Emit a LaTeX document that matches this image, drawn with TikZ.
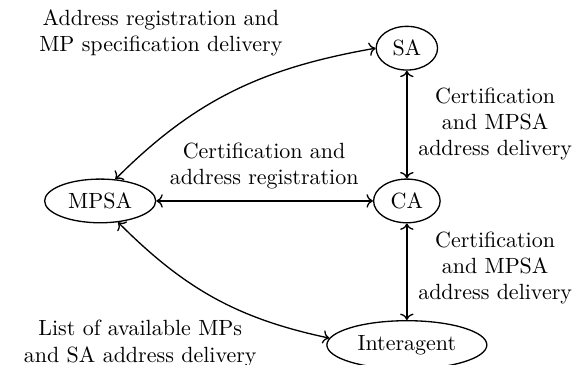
\documentclass[tikz,border=0pt]{standalone}
\usetikzlibrary{shapes.geometric, arrows.meta}
\tikzset{agent/.style={draw,ellipse,semithick},
         msg/.style={align=center},
         link/.style={<->,semithick},
        }
\begin{document}
\begin{tikzpicture}
        \useasboundingbox (0,0) rectangle (9.17,5.83);
        \node[agent](sa)at(6.50,5.06){SA};
        \node[agent](ca)at(6.50,2.62){CA};
        \node[agent](mpsa)at(1.60,2.62){MPSA};
        \node[agent](inter)at(6.50,0.32){Interagent};

        \draw[link](mpsa.55)to[out=45,in=190](sa.west);
        \draw[link](mpsa.east)--(ca.west);
        \draw[link](sa.south)--(ca.north);
        \draw[link](ca.south)--(inter.north);
        \draw[link](mpsa.-50)to[out=-45,in=168](inter.175);

        \node[msg](m1)at(2.57,5.30){Address registration and\\MP specification delivery};
        \node[msg](m2)at(4.22,3.18){Certification and\\address registration};
        \node[msg](m3)at(7.91,3.85){Certification\\and MPSA\\address delivery};
        \node[msg](m4)at(7.91,1.55){Certification\\and MPSA\\address delivery};
        \node[msg](m5)at(2.24,0.34){List of available MPs\\and SA address delivery};
\end{tikzpicture}
\end{document}
